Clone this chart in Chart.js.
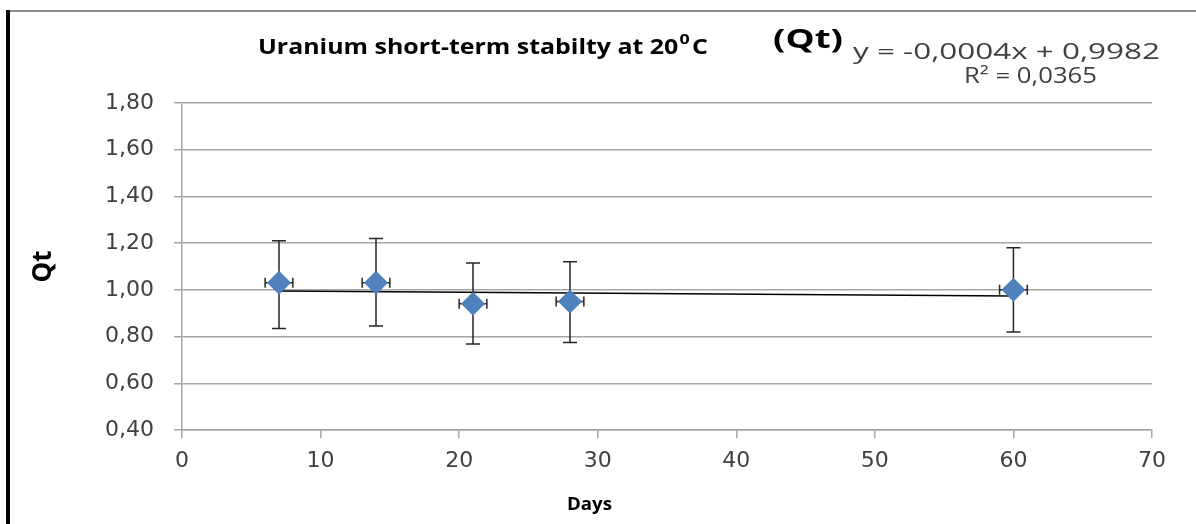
<!DOCTYPE html>
<html>
<head>
<meta charset="utf-8">
<script src="https://cdn.jsdelivr.net/npm/chart.js@4.4.1/dist/chart.umd.min.js"></script>
<style>
    html, body { margin: 0; padding: 0; background: #ffffff; }
    #wrap { position: relative; width: 1196px; height: 524px; overflow: hidden; }
    #grafico { position: absolute; left: 0; top: 0; }
    .bordeIzq { position: absolute; left: 6px; top: 10px; width: 4px; height: 514px; background: #000; }
    .bordeSup { position: absolute; left: 6px; top: 10px; width: 1190px; height: 2px; background: #8c8c8c; }
</style>
</head>
<body>
<div id="wrap">
    <canvas id="grafico" width="1196" height="524"></canvas>
    <div class="bordeSup"></div>
    <div class="bordeIzq"></div>
</div>
<script>
// Datos
const dias = [7, 14, 21, 28, 60];
const qt = [1.03, 1.03, 0.94, 0.95, 1.00];
const qtMin = [0.835, 0.845, 0.768, 0.775, 0.82];
const qtMax = [1.21, 1.22, 1.115, 1.12, 1.18];
const errDias = [1, 1, 1, 1, 1];

// Línea de tendencia (extremos leídos)
const tendenciaX = [7, 60];
const tendenciaY = [0.995, 0.974];

const ticksY = [0.4, 0.6, 0.8, 1.0, 1.2, 1.4, 1.6, 1.8];
const ticksX = [0, 10, 20, 30, 40, 50, 60, 70];

const azul = '#4f81bd';
const gris = '#404040';

// Texto estirado en horizontal hasta un ancho dado (la figura original está estirada)
function textoAncho(ctx, texto, x, y, ancho) {
    const w = ctx.measureText(texto).width;
    ctx.save();
    ctx.translate(x, y);
    ctx.scale(ancho / w, 1);
    ctx.fillText(texto, 0, 0);
    ctx.restore();
}

// Dibuja las barras de error (verticales y horizontales) detrás de los puntos
const barrasError = {
    id: 'barrasError',
    beforeDatasetsDraw(chart) {
        const { ctx, scales: { x, y } } = chart;
        ctx.save();
        ctx.strokeStyle = '#262626';
        ctx.lineWidth = 1.5;
        dias.forEach((d, i) => {
            const px = x.getPixelForValue(d);
            const py = y.getPixelForValue(qt[i]);
            const yTop = y.getPixelForValue(qtMax[i]);
            const yBot = y.getPixelForValue(qtMin[i]);
            const xIzq = x.getPixelForValue(d - errDias[i]);
            const xDer = x.getPixelForValue(d + errDias[i]);
            ctx.beginPath();
            ctx.moveTo(px, yTop); ctx.lineTo(px, yBot);
            ctx.moveTo(px - 7, yTop); ctx.lineTo(px + 7, yTop);
            ctx.moveTo(px - 7, yBot); ctx.lineTo(px + 7, yBot);
            ctx.moveTo(xIzq, py); ctx.lineTo(xDer, py);
            ctx.moveTo(xIzq, py - 5); ctx.lineTo(xIzq, py + 5);
            ctx.moveTo(xDer, py - 5); ctx.lineTo(xDer, py + 5);
            ctx.stroke();
        });
        ctx.restore();
    }
};

// Textos del título, de la ecuación y del eje X
const textos = {
    id: 'textos',
    afterDraw(chart) {
        const ctx = chart.ctx;
        ctx.save();
        ctx.fillStyle = '#000';
        ctx.textBaseline = 'alphabetic';
        ctx.textAlign = 'left';

        // Título con el "0" en superíndice
        const parte1 = 'Uranium short-term stabilty at 20';
        ctx.font = 'bold 21px "Open Sans"';
        const w1 = ctx.measureText(parte1).width;
        const wC = ctx.measureText('C').width;
        ctx.font = 'bold 15px "Open Sans"';
        const w0 = ctx.measureText('0').width;
        const sx = 450 / (w1 + w0 + wC + 3);
        ctx.save();
        ctx.translate(258, 54);
        ctx.scale(sx, 1);
        ctx.font = 'bold 21px "Open Sans"';
        ctx.fillText(parte1, 0, 0);
        ctx.fillText('C', w1 + w0 + 3, 0);
        ctx.font = 'bold 15px "Open Sans"';
        ctx.fillText('0', w1 + 1, -10);
        ctx.restore();

        ctx.font = 'bold 27px "Open Sans"';
        textoAncho(ctx, '(Qt)', 773, 48, 70);

        ctx.fillStyle = '#404040';
        ctx.font = '21px "Open Sans"';
        textoAncho(ctx, 'y = -0,0004x + 0,9982', 853, 59, 307);
        textoAncho(ctx, 'R² = 0,0365', 964, 83, 133);

        ctx.fillStyle = '#000';
        ctx.font = 'bold 17px "Open Sans"';
        textoAncho(ctx, 'Days', 567, 510, 45);
        ctx.restore();
    }
};

new Chart(document.getElementById('grafico'), {
    type: 'scatter',
    data: {
        datasets: [{
            label: 'Qt',
            data: dias.map((d, i) => ({ x: d, y: qt[i] })),
            pointStyle: 'rectRot',
            pointRadius: 12,
            pointHoverRadius: 12,
            backgroundColor: azul,
            borderColor: azul,
            borderWidth: 0,
            order: 1,
        }, {
            label: 'Tendencia',
            type: 'line',
            data: tendenciaX.map((d, i) => ({ x: d, y: tendenciaY[i] })),
            borderColor: '#000',
            borderWidth: 1.5,
            pointRadius: 0,
            fill: false,
            order: 2,
        }],
    },
    options: {
        responsive: false,
        animation: false,
        layout: { padding: { left: 0, right: 44, top: 103, bottom: 0 } },
        plugins: {
            legend: { display: false },
            tooltip: { enabled: false },
        },
        scales: {
            x: {
                type: 'linear',
                min: 0,
                max: 70,
                afterFit: s => { s.height = 94; },
                afterBuildTicks: s => { s.ticks = ticksX.map(v => ({ value: v })); },
                ticks: {
                    color: gris,
                    padding: 10,
                    font: { family: 'DejaVu Sans', size: 22 },
                },
                grid: {
                    drawOnChartArea: false,
                    tickLength: 8,
                    color: '#a6a6a6',
                    lineWidth: 1.5,
                },
                border: { color: '#a6a6a6', width: 1.5 },
            },
            y: {
                min: 0.4,
                max: 1.8,
                afterFit: s => { s.width = 182; },
                afterBuildTicks: s => { s.ticks = ticksY.map(v => ({ value: v })); },
                ticks: {
                    color: gris,
                    padding: 20,
                    font: { family: 'DejaVu Sans', size: 22 },
                    callback: v => v.toFixed(2).replace('.', ','),
                },
                grid: {
                    color: '#a6a6a6',
                    lineWidth: 1.5,
                    tickLength: 8,
                },
                border: { color: '#a6a6a6', width: 1.5 },
                title: {
                    display: true,
                    text: 'Qt',
                    color: '#000',
                    font: { family: 'Open Sans', size: 26, weight: 'bold' },
                    padding: { top: 28, bottom: 28 },
                },
            },
        },
    },
    plugins: [barrasError, textos],
});
</script>
</body>
</html>
